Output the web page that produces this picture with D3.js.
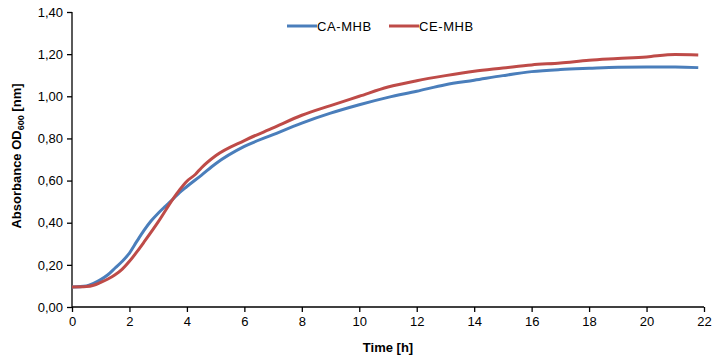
<!DOCTYPE html>
<html>
<head>
<meta charset="utf-8">
<script src="https://cdn.jsdelivr.net/npm/d3@7"></script>
<style>
  body { margin: 0; background: #fff; }
  text { font-family: "Liberation Sans", Arial, sans-serif; fill: #000; }
</style>
</head>
<body>
<div id="chart"></div>
<script>
// time points [h]
const timeCA = [0, 0.5, 0.75, 1, 1.25, 1.5, 1.75, 2, 2.25, 2.5, 2.75, 3, 3.25, 3.5, 3.75, 4, 4.5, 5, 6, 7, 8, 9, 10, 11, 12, 13, 14, 15, 16, 17, 18, 19, 20, 21, 21.8];
const valuesCA = [0.095, 0.1, 0.112, 0.13, 0.153, 0.185, 0.217, 0.256, 0.31, 0.362, 0.408, 0.445, 0.478, 0.51, 0.544, 0.572, 0.625, 0.68, 0.762, 0.818, 0.873, 0.92, 0.96, 0.995, 1.024, 1.055, 1.076, 1.098, 1.117, 1.127, 1.133, 1.138, 1.139, 1.139, 1.136];

const timeCE = [0, 0.5, 0.75, 1, 1.25, 1.5, 1.75, 2, 2.25, 2.5, 3, 3.5, 3.75, 4, 4.3, 4.5, 5, 6, 7, 8, 9, 10, 11, 12, 13, 14, 15, 16, 17, 18, 19, 20, 21, 21.8];
const valuesCE = [0.095, 0.097, 0.103, 0.117, 0.133, 0.153, 0.18, 0.217, 0.26, 0.307, 0.404, 0.51, 0.557, 0.597, 0.63, 0.66, 0.718, 0.79, 0.85, 0.91, 0.956, 1.0, 1.044, 1.074, 1.098, 1.119, 1.134, 1.149, 1.158, 1.171, 1.179, 1.187, 1.198, 1.196];

const seriesNames = ['CA-MHB', 'CE-MHB'];
const seriesColors = ['#4A7EBB', '#BE4B48'];
const xTicks = [0, 2, 4, 6, 8, 10, 12, 14, 16, 18, 20, 22];
const yTicks = [0, 0.2, 0.4, 0.6, 0.8, 1.0, 1.2, 1.4];

const width = 712, height = 360;
const margin = {top: 12, right: 8, bottom: 53, left: 72};

const svg = d3.select('#chart').append('svg')
  .attr('width', width)
  .attr('height', height);

const x = d3.scaleLinear().domain([0, 22]).range([margin.left, width - margin.right]);
const y = d3.scaleLinear().domain([0, 1.4]).range([height - margin.bottom, margin.top]);

const fmt = d => d.toFixed(2).replace('.', ',');

// y axis
const yAxis = svg.append('g')
  .attr('transform', `translate(${margin.left},0)`)
  .call(d3.axisLeft(y).tickValues(yTicks).tickFormat(fmt).tickSize(5).tickPadding(4));

// x axis
const xAxis = svg.append('g')
  .attr('transform', `translate(0,${height - margin.bottom})`)
  .call(d3.axisBottom(x).tickValues(xTicks).tickFormat(d3.format('d')).tickSize(5).tickPadding(5));

[xAxis, yAxis].forEach(a => {
  a.select('.domain').attr('stroke', '#000').attr('stroke-width', 1.3);
  a.selectAll('.tick line').attr('stroke', '#000').attr('stroke-width', 1.3);
  a.selectAll('.tick text').style('font-size', '13px').style('font-family', '"Liberation Sans", Arial, sans-serif');
});
xAxis.select('.domain').attr('d', `M${margin.left},0H${width - margin.right}`);
yAxis.select('.domain').attr('d', `M0,${height - margin.bottom}V${margin.top}`);

// axis titles
svg.append('text')
  .attr('x', 388)
  .attr('y', 352)
  .attr('text-anchor', 'middle')
  .style('font-size', '13px')
  .style('font-weight', 'bold')
  .text('Time [h]');

const yTitle = svg.append('text')
  .attr('transform', 'translate(21,156) rotate(-90)')
  .attr('text-anchor', 'middle')
  .style('font-size', '13px')
  .style('font-weight', 'bold');
yTitle.append('tspan').text('Absorbance OD');
yTitle.append('tspan').attr('dy', 3).style('font-size', '9px').text('600');
yTitle.append('tspan').attr('dy', -3).text(' [nm]');

// lines
const line = d3.line()
  .x(d => x(d[0]))
  .y(d => y(d[1]))
  .curve(d3.curveMonotoneX);

const series = [
  d3.zip(timeCA, valuesCA),
  d3.zip(timeCE, valuesCE)
];

series.forEach((s, i) => {
  svg.append('path')
    .datum(s)
    .attr('fill', 'none')
    .attr('stroke', seriesColors[i])
    .attr('stroke-width', 3)
    .attr('stroke-linejoin', 'round')
    .attr('d', line);
});

// legend
const legendX = [287, 389];
seriesNames.forEach((name, i) => {
  const g = svg.append('g').attr('transform', `translate(${legendX[i]},26)`);
  g.append('line')
    .attr('x1', 0).attr('x2', 30)
    .attr('y1', 0).attr('y2', 0)
    .attr('stroke', seriesColors[i])
    .attr('stroke-width', 3);
  g.append('text')
    .attr('x', 30)
    .attr('y', 5)
    .style('font-size', '13px')
    .style('letter-spacing', '0.6px')
    .text(name);
});
</script>
</body>
</html>
